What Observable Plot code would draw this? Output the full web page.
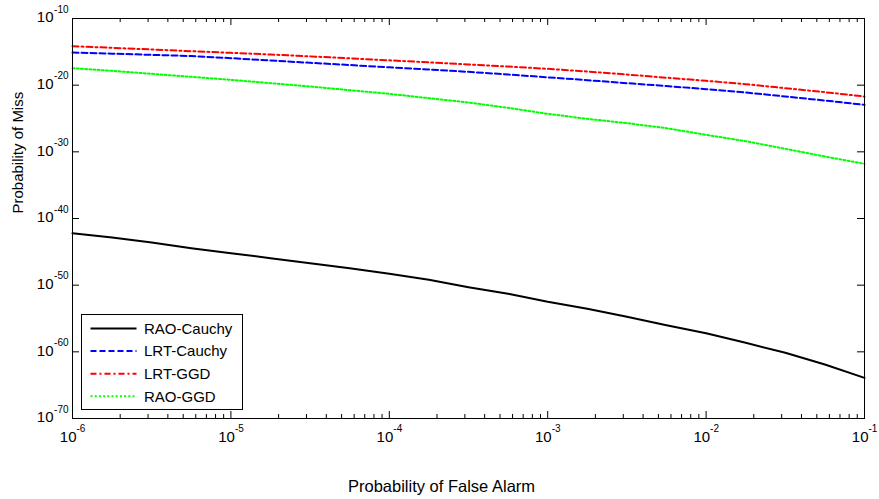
<!DOCTYPE html>
<html><head><meta charset="utf-8">
<script src="https://cdn.jsdelivr.net/npm/d3@7"></script>
<script src="https://cdn.jsdelivr.net/npm/@observablehq/plot@0.6"></script>
<style>html,body{margin:0;padding:0;background:#fff} svg{display:block}</style>
</head><body><div id="chart"></div>
<script>
// log10 of Probability of False Alarm (x)
const logPfa = [-6,-5.75,-5.5,-5.25,-5,-4.75,-4.5,-4.25,-4,-3.75,-3.5,-3.25,-3,-2.75,-2.5,-2.25,-2,-1.75,-1.5,-1.25,-1];
// log10 of Probability of Miss (y), per series
const raoCauchy = [-42.2,-42.85,-43.6,-44.45,-45.2,-45.95,-46.7,-47.45,-48.3,-49.2,-50.3,-51.3,-52.5,-53.55,-54.75,-56.0,-57.2,-58.65,-60.15,-61.9,-63.9];
const lrtCauchy = [-15.1,-15.28,-15.45,-15.63,-15.95,-16.3,-16.65,-16.98,-17.32,-17.65,-18.0,-18.4,-18.82,-19.25,-19.7,-20.13,-20.6,-21.1,-21.7,-22.3,-22.95];
const lrtGGD    = [-14.15,-14.4,-14.65,-14.9,-15.15,-15.4,-15.68,-15.97,-16.28,-16.58,-16.9,-17.2,-17.55,-17.95,-18.4,-18.88,-19.35,-19.85,-20.45,-21.05,-21.7];
const raoGGD    = [-17.45,-17.85,-18.3,-18.75,-19.2,-19.7,-20.2,-20.75,-21.3,-21.95,-22.6,-23.4,-24.3,-25.05,-25.7,-26.45,-27.45,-28.4,-29.55,-30.7,-31.8];

const seriesNames  = ["RAO-Cauchy","LRT-Cauchy","LRT-GGD","RAO-GGD"];
const seriesValues = [raoCauchy, lrtCauchy, lrtGGD, raoGGD];
const seriesColors = ["#000000","#0000ff","#ff0000","#00ff00"];
const seriesDash   = ["none","6,3","6,3,2,3","2,2.2"];

const xDecades = [-6,-5,-4,-3,-2,-1];
const yDecades = [-10,-20,-30,-40,-50,-60,-70];
const xLabel = "Probability of False Alarm";
const yLabel = "Probability of Miss";

const W = 879, H = 499, mL = 72, mR = 15, mT = 18, mB = 81;
const fw = W - mL - mR, fh = H - mT - mB;
const font = "'Liberation Sans', Arial, Helvetica, sans-serif";

const xMajor = xDecades.map(e => Math.pow(10, e));
const xMinor = xDecades.slice(0, -1).flatMap(e => d3.range(2, 10).map(k => k * Math.pow(10, e)));
const yMajor = yDecades.map(e => Math.pow(10, e));

const seriesData = seriesNames.map((name, i) =>
  logPfa.map((lx, j) => ({series: name, pfa: Math.pow(10, lx), pm: Math.pow(10, seriesValues[i][j])}))
);

const marks = [
  ...seriesData.map((data, i) => Plot.line(data, {
    x: "pfa", y: "pm", stroke: seriesColors[i], strokeWidth: 2,
    strokeDasharray: seriesDash[i] === "none" ? undefined : seriesDash[i]
  })),
  Plot.frame({stroke: "#000", strokeWidth: 1}),
  Plot.tickX(xMajor, {x: d => d, insetTop: fh - 7, stroke: "#000"}),
  Plot.tickX(xMajor, {x: d => d, insetBottom: fh - 7, stroke: "#000"}),
  Plot.tickX(xMinor, {x: d => d, insetTop: fh - 4, stroke: "#000"}),
  Plot.tickX(xMinor, {x: d => d, insetBottom: fh - 4, stroke: "#000"}),
  Plot.tickY(yMajor, {y: d => d, insetRight: fw - 7, stroke: "#000"}),
  Plot.tickY(yMajor, {y: d => d, insetLeft: fw - 7, stroke: "#000"}),
  // x tick labels: 10^e
  Plot.text(xMajor, {x: d => d, text: () => "10", frameAnchor: "bottom", textAnchor: "end", lineAnchor: "middle", dx: 4, dy: 19, fontSize: 15, fill: "#000"}),
  Plot.text(xDecades, {x: d => Math.pow(10, d), text: d => String(d), frameAnchor: "bottom", textAnchor: "start", lineAnchor: "middle", dx: 4, dy: 10, fontSize: 10, fill: "#000"}),
  // y tick labels
  Plot.text(yMajor, {y: d => d, text: () => "10", frameAnchor: "left", textAnchor: "end", lineAnchor: "middle", dx: -19, dy: -1, fontSize: 15, fill: "#000"}),
  Plot.text(yDecades, {y: d => Math.pow(10, d), text: d => String(d), frameAnchor: "left", textAnchor: "end", lineAnchor: "middle", dx: -4, dy: -9, fontSize: 10, fill: "#000"}),
  // axis titles
  Plot.text([xLabel], {text: d => d, frameAnchor: "bottom", lineAnchor: "middle", dx: -27, dy: 68, fontSize: 16.5, fill: "#000"}),
  Plot.text([yLabel], {text: d => d, frameAnchor: "left", rotate: -90, lineAnchor: "middle", dx: -54.5, dy: -5, fontSize: 15, fill: "#000"})
];

const plot = Plot.plot({
  width: W, height: H,
  marginLeft: mL, marginRight: mR, marginTop: mT, marginBottom: mB,
  x: {type: "log", domain: [1e-6, 1e-1], axis: null},
  y: {type: "log", domain: [1e-70, 1e-10], axis: null},
  style: {fontFamily: font, background: "#fff", color: "#000"},
  marks
});

// Legend box inside the plot (lower left)
const svg = d3.select(plot);
const lgX = mL + 9.5, lgY = H - mB - 103.5, lgW = 161, lgH = 95, rowH = 22.6;
const lg = svg.append("g").attr("font-family", font).attr("font-size", 15).attr("text-anchor", "start");
lg.append("rect").attr("x", lgX).attr("y", lgY).attr("width", lgW).attr("height", lgH)
  .attr("fill", "#fff").attr("stroke", "#000").attr("stroke-width", 1);
seriesNames.forEach((name, i) => {
  const cy = lgY + 14 + i * rowH;
  lg.append("line").attr("x1", lgX + 9).attr("x2", lgX + 55).attr("y1", cy).attr("y2", cy)
    .attr("stroke", seriesColors[i]).attr("stroke-width", 2)
    .attr("stroke-dasharray", seriesDash[i]);
  lg.append("text").attr("x", lgX + 62.5).attr("y", cy).attr("dy", "0.35em")
    .attr("text-anchor", "start").attr("fill", "#000").text(name);
});

document.getElementById("chart").appendChild(plot);
</script>
</body></html>
